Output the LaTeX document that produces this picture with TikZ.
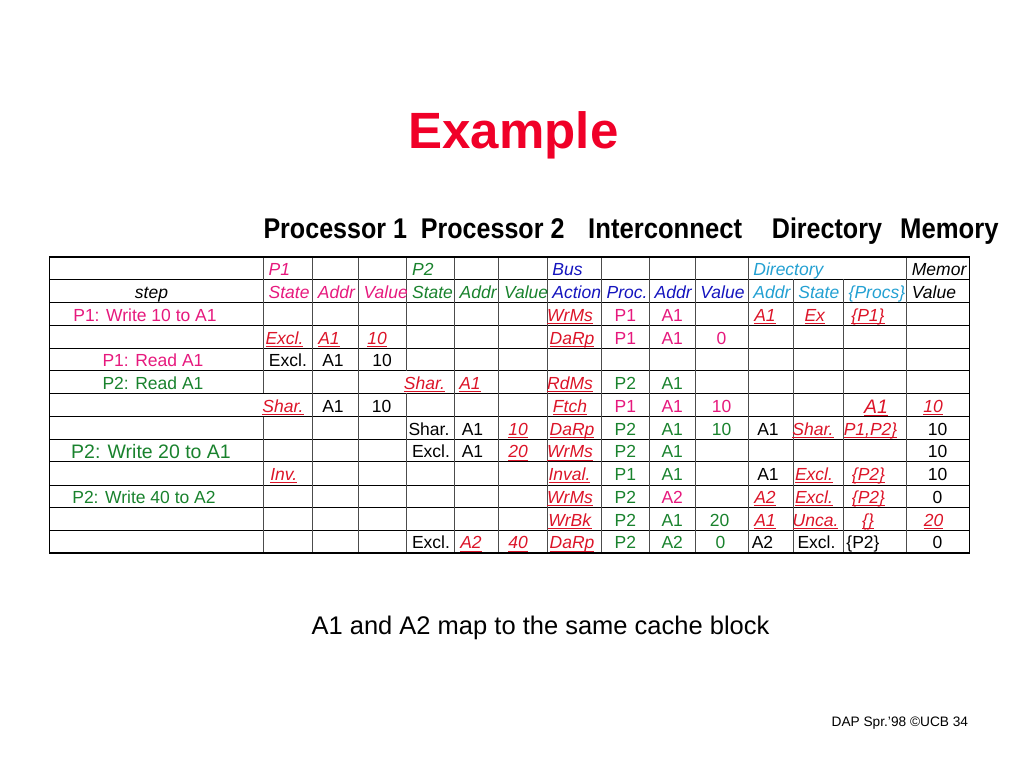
\documentclass[tikz,border=0pt]{standalone}
\usepackage{fontspec}
\setmainfont{Liberation Sans}
\usepackage{graphicx}
\definecolor{tred}{RGB}{240,0,40}
\definecolor{ured}{RGB}{220,20,40}
\definecolor{pmag}{RGB}{230,25,125}
\definecolor{pgreen}{RGB}{25,130,45}
\definecolor{pblue}{RGB}{20,20,190}
\definecolor{pcyan}{RGB}{35,160,210}
\newsavebox{\rubox}
\newcommand{\ru}[1]{\sbox\rubox{\textit{#1}}\rlap{\rule[-2.8pt]{\wd\rubox}{1.1pt}}\usebox\rubox}
\newcommand{\hcell}[6]{%
  \begin{scope}\clip (#2,#4) rectangle (#3,#4+23);
  \node[hd,#5] (#1) at (#2+5.2,#4+19) {#6};
  \end{scope}}
\tikzset{
  tx/.style={anchor=base, inner sep=0pt, font=\fontsize{17.5}{20}\selectfont},
  hd/.style={anchor=base west, inner sep=0pt, font=\fontsize{17.5}{20}\selectfont\itshape},
  rd/.style={tx, text=ured},
  gr/.style={tx, text=pgreen},
  mg/.style={tx, text=pmag},
  bk/.style={tx, text=black},
  colhead/.style={anchor=base west, inner sep=0pt, font=\fontsize{28.5}{32}\selectfont\bfseries},
  gridh/.style={line width=1pt, black},
  gridv/.style={line width=1pt, black!70},
  frame/.style={line width=1.6pt, black},
}
\begin{document}
\begin{tikzpicture}[x=1pt,y=-1pt]
\useasboundingbox (0,0) rectangle (1024,768);
% title and headings
\node[anchor=base, inner sep=0pt, text=tred, font=\fontsize{51}{60}\selectfont\bfseries] (title) at (513.5,148.3) {Example};
\node[colhead] (hp1) at (263.3,238.5) {\scalebox{0.88}[1]{Processor 1}};
\node[colhead] (hp2) at (420.7,238.5) {\scalebox{0.88}[1]{Processor 2}};
\node[colhead] (hic) at (588,238.5) {\scalebox{0.9}[1]{Interconnect}};
\node[colhead] (hdir) at (771.7,238.5) {\scalebox{0.88}[1]{Directory}};
\node[colhead] (hmem) at (900,238.5) {\scalebox{0.9}[1]{Memory}};
% grid horizontals
\foreach \yy in {279.3,302.3,325,348,370.7,393.3,416.7,439.3,461.7,485,507.7,530}
  \draw[gridh] (49.5,\yy) -- (969.5,\yy);
% grid verticals
\foreach \xx in {312.5,358.3,454.3,498.7,547,601.3,649.3,695,748,906.5}
  \draw[gridv] (\xx,256.7) -- (\xx,552.7);
\draw[gridv] (263.3,256.7) -- (263.3,393.3);
\draw[gridv] (263.3,416.7) -- (263.3,552.7);
\draw[gridv] (406.7,256.7) -- (406.7,370.7);
\draw[gridv] (406.7,393.3) -- (406.7,552.7);
\draw[gridv] (793,279.3) -- (793,552.7);
\draw[gridv] (843.3,279.3) -- (843.3,552.7);
\draw[frame] (49.5,256.7) rectangle (969.5,552.7);
% row 1
\hcell{h1a}{263.3}{312.5}{256.7}{text=pmag}{P1}
\hcell{h1b}{406.7}{454.3}{256.7}{text=pgreen}{P2}
\hcell{h1c}{547}{601.3}{256.7}{text=pblue}{Bus}
\hcell{h1d}{748}{906.5}{256.7}{text=pcyan}{Directory}
\hcell{h1e}{906.5}{969.5}{256.7}{text=black}{Memor}
% row 2
\node[bk, font=\fontsize{17.5}{20}\selectfont\itshape] (h2s) at (151.5,298.5) {step};
\hcell{h2a}{263.3}{312.5}{279.3}{text=pmag}{State}
\hcell{h2b}{312.5}{358.3}{279.3}{text=pmag}{Addr}
\hcell{h2c}{358.3}{406.7}{279.3}{text=pmag}{Value}
\hcell{h2d}{406.7}{454.3}{279.3}{text=pgreen}{State}
\hcell{h2e}{454.3}{498.7}{279.3}{text=pgreen}{Addr}
\hcell{h2f}{498.7}{547}{279.3}{text=pgreen}{Value}
\hcell{h2g}{547}{601.3}{279.3}{text=pblue}{Action}
\hcell{h2h}{601.3}{649.3}{279.3}{text=pblue}{Proc.}
\hcell{h2i}{649.3}{695}{279.3}{text=pblue}{Addr}
\hcell{h2j}{695}{748}{279.3}{text=pblue}{Value}
\hcell{h2k}{748}{793}{279.3}{text=pcyan}{Addr}
\hcell{h2l}{793}{843.3}{279.3}{text=pcyan}{State}
\hcell{h2m}{843.3}{906.5}{279.3}{text=pcyan}{\{Procs\}}
\hcell{h2n}{906.5}{969.5}{279.3}{text=black}{Value}
% row 3
\node[mg] (s3) at (145,321.2) {P1: Write 10 to A1};
\node[rd] (r3a) at (570,321.2) {\ru{WrMs}};
\node[mg] (r3b) at (625.3,321.2) {P1};
\node[mg] (r3c) at (672.2,321.2) {A1};
\node[rd] (r3d) at (765,321.2) {\ru{A1}};
\node[rd] (r3e) at (815,321.2) {\ru{Ex}};
\node[rd] (r3f) at (868,321.2) {\ru{\{P1\}}};
% row 4
\node[rd] (r4a) at (284.5,344) {\ru{Excl.}};
\node[rd] (r4b) at (329,344) {\ru{A1}};
\node[rd] (r4c) at (377,344) {\ru{10}};
\node[rd] (r4d) at (572,344) {\ru{DaRp}};
\node[mg] (r4e) at (625.3,344) {P1};
\node[mg] (r4f) at (672.2,344) {A1};
\node[mg] (r4g) at (721.5,344) {0};
% row 5
\node[mg] (s5) at (153,366.8) {P1: Read A1};
\node[bk] (r5a) at (287.9,366.8) {Excl.};
\node[bk] (r5b) at (333,366.8) {A1};
\node[bk] (r5c) at (382,366.8) {10};
% row 6
\node[gr] (s6) at (153,389.5) {P2: Read A1};
\node[rd] (r6a) at (424.5,389.5) {\ru{Shar.}};
\node[rd] (r6b) at (470,389.5) {\ru{A1}};
\node[rd] (r6c) at (570,389.5) {\ru{RdMs}};
\node[gr] (r6d) at (625.3,389.5) {P2};
\node[gr] (r6e) at (672.2,389.5) {A1};
% row 7
\node[rd] (r7a) at (283,412.3) {\ru{Shar.}};
\node[bk] (r7b) at (333,412.3) {A1};
\node[bk] (r7c) at (381.6,412.3) {10};
\node[rd] (r7d) at (570,412.3) {\ru{Ftch}};
\node[mg] (r7e) at (625.3,412.3) {P1};
\node[mg] (r7f) at (672.2,412.3) {A1};
\node[mg] (r7g) at (721.5,412.3) {10};
\node[rd, font=\fontsize{19.5}{22}\selectfont] (r7h) at (876,413.3) {\ru{A1}};
\node[rd] (r7i) at (933,412.3) {\ru{10}};
% row 8
\node[bk] (r8a) at (429,435.1) {Shar.};
\node[bk] (r8b) at (472.5,435.1) {A1};
\node[rd] (r8c) at (518,435.1) {\ru{10}};
\node[rd] (r8d) at (572,435.1) {\ru{DaRp}};
\node[gr] (r8e) at (625.3,435.1) {P2};
\node[gr] (r8f) at (672.2,435.1) {A1};
\node[gr] (r8g) at (721.5,435.1) {10};
\node[bk] (r8h) at (768,435.1) {A1};
\node[rd] (r8i) at (813,435.1) {\ru{Shar.}};
\node[rd] (r8j) at (870.5,435.1) {\ru{P1,P2\}}};
\node[bk] (r8k) at (937.5,435.1) {10};
% row 9
\node[gr, font=\fontsize{19.5}{22}\selectfont] (s9) at (151,458.4) {P2: Write 20 to A1};
\node[bk] (r9a) at (431,457.9) {Excl.};
\node[bk] (r9b) at (472.5,457.9) {A1};
\node[rd] (r9c) at (518,457.9) {\ru{20}};
\node[rd] (r9d) at (570,457.9) {\ru{WrMs}};
\node[gr] (r9e) at (625.3,457.9) {P2};
\node[gr] (r9f) at (672.2,457.9) {A1};
\node[bk] (r9g) at (937.5,457.9) {10};
% row 10
\node[rd] (r10a) at (283.7,480.6) {\ru{Inv.}};
\node[rd] (r10b) at (569.5,480.6) {\ru{Inval.}};
\node[gr] (r10c) at (625.3,480.6) {P1};
\node[gr] (r10d) at (672.2,480.6) {A1};
\node[bk] (r10e) at (768,480.6) {A1};
\node[rd] (r10f) at (814,480.6) {\ru{Excl.}};
\node[rd] (r10g) at (868.5,480.6) {\ru{\{P2\}}};
\node[bk] (r10h) at (937.5,480.6) {10};
% row 11
\node[gr] (s11) at (144,503.4) {P2: Write 40 to A2};
\node[rd] (r11a) at (570,503.4) {\ru{WrMs}};
\node[gr] (r11b) at (625.3,503.4) {P2};
\node[mg] (r11c) at (672.2,503.4) {A2};
\node[rd] (r11d) at (765,503.4) {\ru{A2}};
\node[rd] (r11e) at (814,503.4) {\ru{Excl.}};
\node[rd] (r11f) at (868.5,503.4) {\ru{\{P2\}}};
\node[bk] (r11g) at (937.5,503.4) {0};
% row 12
\node[rd] (r12a) at (570,526.2) {\ru{WrBk}};
\node[gr] (r12b) at (625.3,526.2) {P2};
\node[gr] (r12c) at (672.2,526.2) {A1};
\node[gr] (r12d) at (719.5,526.2) {20};
\node[rd] (r12e) at (765,526.2) {\ru{A1}};
\node[rd] (r12f) at (815.5,526.2) {\ru{Unca.}};
\node[rd] (r12g) at (868,526.2) {\ru{\{\}}};
\node[rd] (r12h) at (933.5,526.2) {\ru{20}};
% row 13
\node[bk] (r13a) at (431,548.9) {Excl.};
\node[rd] (r13b) at (471,548.9) {\ru{A2}};
\node[rd] (r13c) at (518,548.9) {\ru{40}};
\node[rd] (r13d) at (572,548.9) {\ru{DaRp}};
\node[gr] (r13e) at (625.3,548.9) {P2};
\node[gr] (r13f) at (672.2,548.9) {A2};
\node[gr] (r13g) at (720.5,548.9) {0};
\node[bk] (r13h) at (762.5,548.9) {A2};
\node[bk] (r13i) at (816.5,548.9) {Excl.};
\node[bk] (r13j) at (863,548.9) {\{P2\}};
\node[bk] (r13k) at (937.5,548.9) {0};
% notes
\node[anchor=base, inner sep=0pt, font=\fontsize{25.5}{30}\selectfont] (note) at (540.5,634) {A1 and A2 map to the same cache block};
\node[anchor=base east, inner sep=0pt, font=\fontsize{13.7}{16}\selectfont] (foot) at (968.3,726) {DAP Spr.'98 ©UCB 34};
\end{tikzpicture}
\end{document}
